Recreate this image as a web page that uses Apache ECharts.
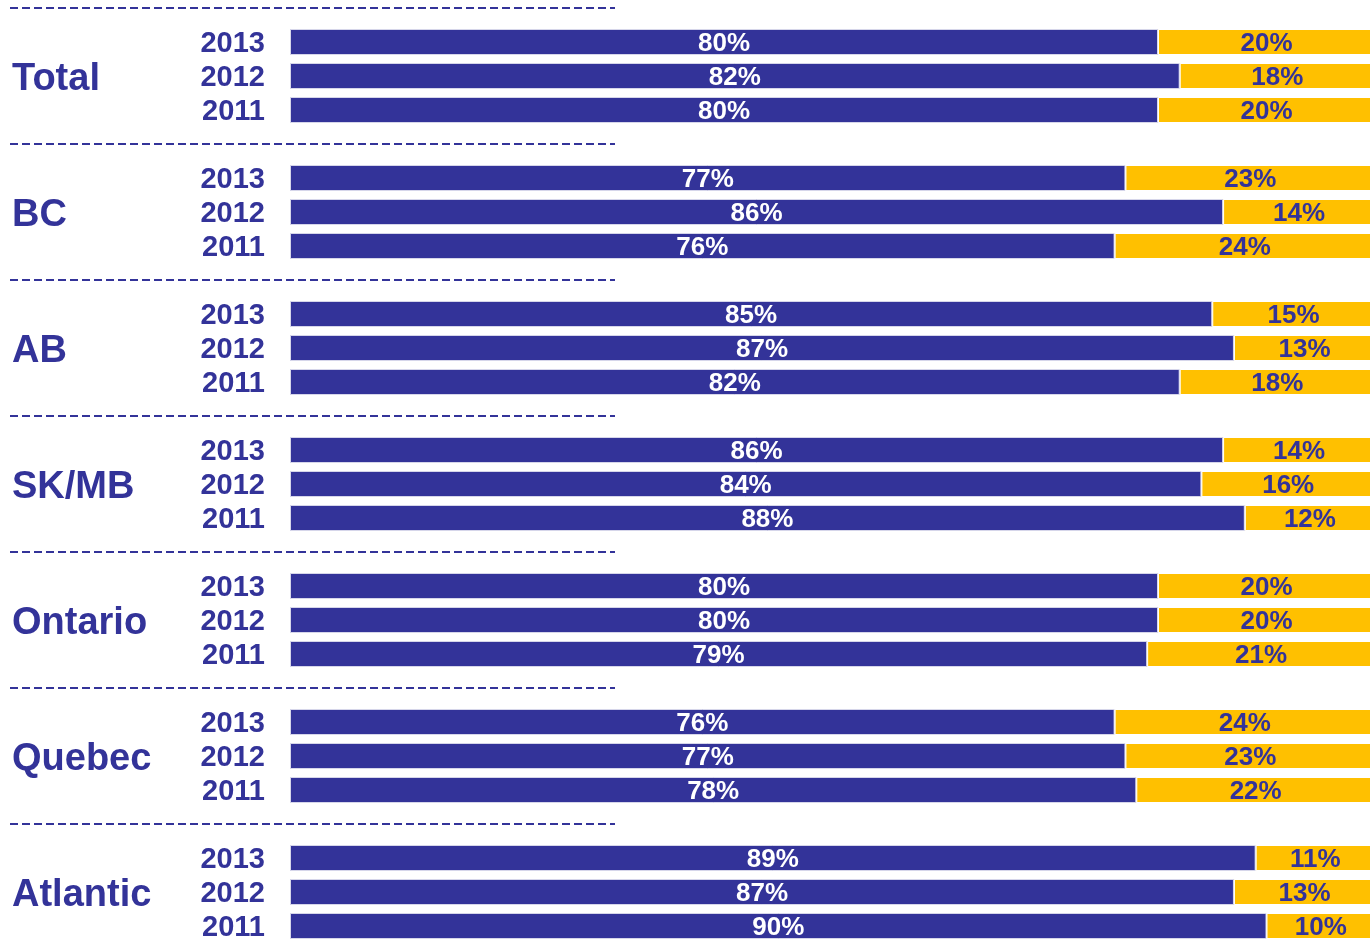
<!DOCTYPE html>
<html>
<head>
<meta charset="utf-8">
<script src="https://cdn.jsdelivr.net/npm/echarts@6/dist/echarts.min.js"></script>
<style>
    html, body { margin: 0; padding: 0; background: #fff; }
    #chart { width: 1370px; height: 945px; }
</style>
</head>
<body>
<div id="chart"></div>
<script>
const groups = ['Total', 'BC', 'AB', 'SK/MB', 'Ontario', 'Quebec', 'Atlantic'];
const years = ['2013', '2012', '2011'];
// per group, in order 2013, 2012, 2011
const blueValues = [
    [80, 82, 80],
    [77, 86, 76],
    [85, 87, 82],
    [86, 84, 88],
    [80, 80, 79],
    [76, 77, 78],
    [89, 87, 90]
];
const goldValues = [
    [20, 18, 20],
    [23, 14, 24],
    [15, 13, 18],
    [14, 16, 12],
    [20, 20, 21],
    [24, 23, 22],
    [11, 13, 10]
];

const BLUE = '#333399';
const GOLD = '#FFC000';
const FONT = '"Liberation Sans", Arial, sans-serif';

/*build category rows: a spacer row before each group*/
const categories = [];
const blueData = [];
const goldData = [];
groups.forEach(function (g, gi) {
    categories.push('gap|' + g);
    blueData.push('-');
    goldData.push('-');
    years.forEach(function (y, yi) {
        categories.push(g + '|' + y);
        blueData.push(blueValues[gi][yi]);
        goldData.push(goldValues[gi][yi]);
    });
});

const chart = echarts.init(document.getElementById('chart'));

const option = {
    animation: false,
    grid: { left: 290, top: -9, width: 1085, height: 952, outerBoundsMode: 'none', containLabel: false },
    xAxis: { type: 'value', min: 0, max: 100, show: false },
    yAxis: [{
        type: 'category',
        data: categories,
        inverse: true,
        axisLine: { show: false },
        axisTick: { show: false },
        axisLabel: {
            interval: 0,
            margin: 25,
            color: BLUE,
            fontFamily: FONT,
            fontWeight: 'bold',
            fontSize: 29,
            formatter: function (v) {
                const parts = v.split('|');
                return parts[0] === 'gap' ? '' : '{y|' + parts[1] + '}';
            },
            rich: {
                y: {
                    color: BLUE,
                    fontFamily: FONT,
                    fontWeight: 'bold',
                    fontSize: 29,
                    padding: [3, 0, 0, 0]
                }
            }
        }
    }, {
        type: 'category',
        data: categories,
        inverse: true,
        position: 'left',
        axisLine: { show: false },
        axisTick: { show: false },
        axisLabel: {
            interval: 0,
            margin: 278,
            align: 'left',
            color: BLUE,
            fontFamily: FONT,
            fontWeight: 'bold',
            fontSize: 38,
            formatter: function (v) {
                const parts = v.split('|');
                return parts[1] === '2012' ? '{g|' + parts[0] + '}' : '';
            },
            rich: {
                g: {
                    color: BLUE,
                    fontFamily: FONT,
                    fontWeight: 'bold',
                    fontSize: 38,
                    padding: [8, 0, 0, 0]
                }
            }
        }
    }],
    series: [{
        type: 'bar',
        stack: 'all',
        yAxisIndex: 0,
        barWidth: 26,
        data: blueData,
        itemStyle: { color: BLUE, borderColor: '#d6d6ea', borderWidth: 1 },
        label: {
            show: true,
            position: 'inside',
            color: '#fff',
            fontFamily: FONT,
            fontWeight: 'bold',
            fontSize: 26,
            offset: [0, 2],
            formatter: '{c}%'
        }
    }, {
        type: 'bar',
        stack: 'all',
        yAxisIndex: 0,
        barWidth: 26,
        data: goldData,
        itemStyle: { color: GOLD, borderColor: '#fff', borderWidth: 1 },
        label: {
            show: true,
            position: 'inside',
            color: BLUE,
            fontFamily: FONT,
            fontWeight: 'bold',
            fontSize: 26,
            offset: [0, 2],
            formatter: '{c}%'
        }
    }]
};

chart.setOption(option);

/*dashed separators on the spacer rows*/
(function () {
    const lines = groups.map(function (g) {
        const y = chart.convertToPixel({ yAxisIndex: 0 }, 'gap|' + g);
        return {
            type: 'line',
            shape: { x1: 10, y1: y, x2: 615, y2: y },
            style: { stroke: BLUE, lineWidth: 2, lineDash: [8, 4] }
        };
    });

    chart.setOption({ graphic: lines });
})();
</script>
</body>
</html>
